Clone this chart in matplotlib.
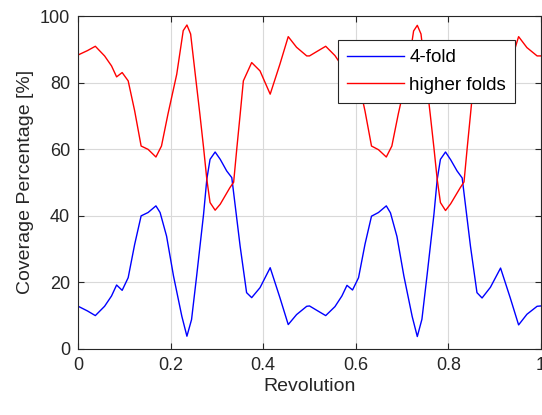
import matplotlib.pyplot as plt

# values (revolution, coverage %)
rev_four = [0.000, 0.020, 0.037, 0.057, 0.072, 0.083, 0.095, 0.108, 0.122, 0.136,
            0.151, 0.168, 0.177, 0.191, 0.206, 0.224, 0.235, 0.245, 0.256, 0.271,
            0.278, 0.285, 0.296, 0.307, 0.321, 0.332, 0.350, 0.364, 0.375, 0.393,
            0.415, 0.436, 0.454, 0.472, 0.494,
            0.500, 0.518, 0.535, 0.555, 0.570, 0.581, 0.593, 0.606, 0.620, 0.634,
            0.649, 0.666, 0.675, 0.689, 0.704, 0.722, 0.733, 0.743, 0.754, 0.769,
            0.776, 0.783, 0.794, 0.805, 0.819, 0.830, 0.848, 0.862, 0.873, 0.891,
            0.913, 0.934, 0.952, 0.970, 0.992, 1.000]
four_fold = [12.7, 11.3, 9.9, 12.7, 15.8, 19.1, 17.5, 21.3, 31.3, 39.9,
             40.9, 42.9, 40.9, 33.8, 21.8, 9.7, 3.7, 8.7, 21.8, 40.4,
             50.9, 56.9, 59.1, 56.9, 53.4, 51.4, 30.8, 16.8, 15.3, 18.3,
             24.3, 15.3, 7.2, 10.2, 12.7,
             12.8, 11.3, 9.9, 12.6, 15.8, 19.0, 17.6, 21.3, 31.4, 39.8,
             40.9, 42.9, 40.8, 33.7, 21.8, 9.6, 3.6, 8.8, 21.9, 40.4,
             50.8, 56.9, 59.1, 56.8, 53.4, 51.3, 30.7, 16.8, 15.2, 18.4,
             24.2, 15.2, 7.1, 10.3, 12.7, 12.8]

rev_higher = [0.000, 0.020, 0.037, 0.057, 0.072, 0.083, 0.095, 0.108, 0.122, 0.136,
              0.151, 0.168, 0.180, 0.194, 0.213, 0.227, 0.235, 0.243, 0.253, 0.263,
              0.271, 0.278, 0.285, 0.296, 0.307, 0.328, 0.336, 0.343, 0.350, 0.357,
              0.375, 0.393, 0.415, 0.436, 0.454, 0.472, 0.494,
              0.500, 0.518, 0.535, 0.555, 0.570, 0.581, 0.593, 0.606, 0.620, 0.634,
              0.649, 0.666, 0.678, 0.692, 0.711, 0.725, 0.733, 0.741, 0.751, 0.761,
              0.769, 0.776, 0.783, 0.794, 0.805, 0.826, 0.834, 0.841, 0.848, 0.855,
              0.873, 0.891, 0.913, 0.934, 0.952, 0.970, 0.992, 1.000]
higher_folds = [88.3, 89.6, 90.9, 88.0, 85.0, 81.7, 83.0, 80.5, 71.5, 60.9,
                59.9, 57.6, 60.9, 70.5, 82.5, 95.6, 97.3, 94.6, 82.5, 70.5,
                60.4, 50.9, 43.9, 41.6, 43.4, 48.4, 50.0, 60.4, 70.3, 80.5,
                86.0, 83.5, 76.5, 85.5, 93.8, 90.6, 88.0,
                88.0, 89.5, 90.9, 88.1, 85.0, 81.8, 83.0, 80.4, 71.4, 60.9,
                59.8, 57.6, 60.9, 70.6, 82.4, 95.5, 97.2, 94.6, 82.6, 70.4,
                60.3, 50.9, 43.9, 41.5, 43.5, 48.4, 50.1, 60.5, 70.4, 80.6,
                86.0, 83.4, 76.4, 85.6, 93.8, 90.5, 88.0, 88.0]

x_ticks = [0, 0.2, 0.4, 0.6, 0.8, 1]
x_labels = ["0", "0.2", "0.4", "0.6", "0.8", "1"]
y_ticks = [0, 20, 40, 60, 80, 100]

plt.rcParams['font.family'] = ['Liberation Sans', 'DejaVu Sans']

fig = plt.figure(figsize=(5.42, 4.15), dpi=100)
ax = fig.add_axes([0.1443, 0.1602, 0.8535, 0.8012])

ax.plot(rev_four, four_fold, color=(0, 0, 1), lw=1.0, label='4-fold')
ax.plot(rev_higher, higher_folds, color=(1, 0, 0), lw=1.0, label='higher folds')

ax.set_xlim(0, 1)
ax.set_ylim(0, 100)
ax.set_xticks(x_ticks)
ax.set_xticklabels(x_labels)
ax.set_yticks(y_ticks)

ax.grid(True, color='#d9d9d9', lw=0.8)
ax.set_axisbelow(True)
for s in ax.spines.values():
    s.set_color('#262626')
    s.set_linewidth(0.8)
ax.tick_params(direction='in', top=True, right=True, length=4,
               colors='#262626', labelsize=13, width=0.8, pad=6)

ax.set_xlabel('Revolution', fontsize=14, color='#262626', labelpad=3)
ax.set_ylabel('Coverage Percentage [%]', fontsize=14, color='#262626', labelpad=4)

leg = ax.legend(loc='upper right', bbox_to_anchor=(0.945, 0.928),
                fontsize=13.5, frameon=True, fancybox=False,
                handlelength=3.0, borderpad=0.5, labelspacing=0.55,
                handletextpad=0.3, borderaxespad=0)
leg.get_frame().set_edgecolor('#262626')
leg.get_frame().set_linewidth(0.8)
leg.get_frame().set_alpha(1)

fig.savefig('out.png', dpi=100)
